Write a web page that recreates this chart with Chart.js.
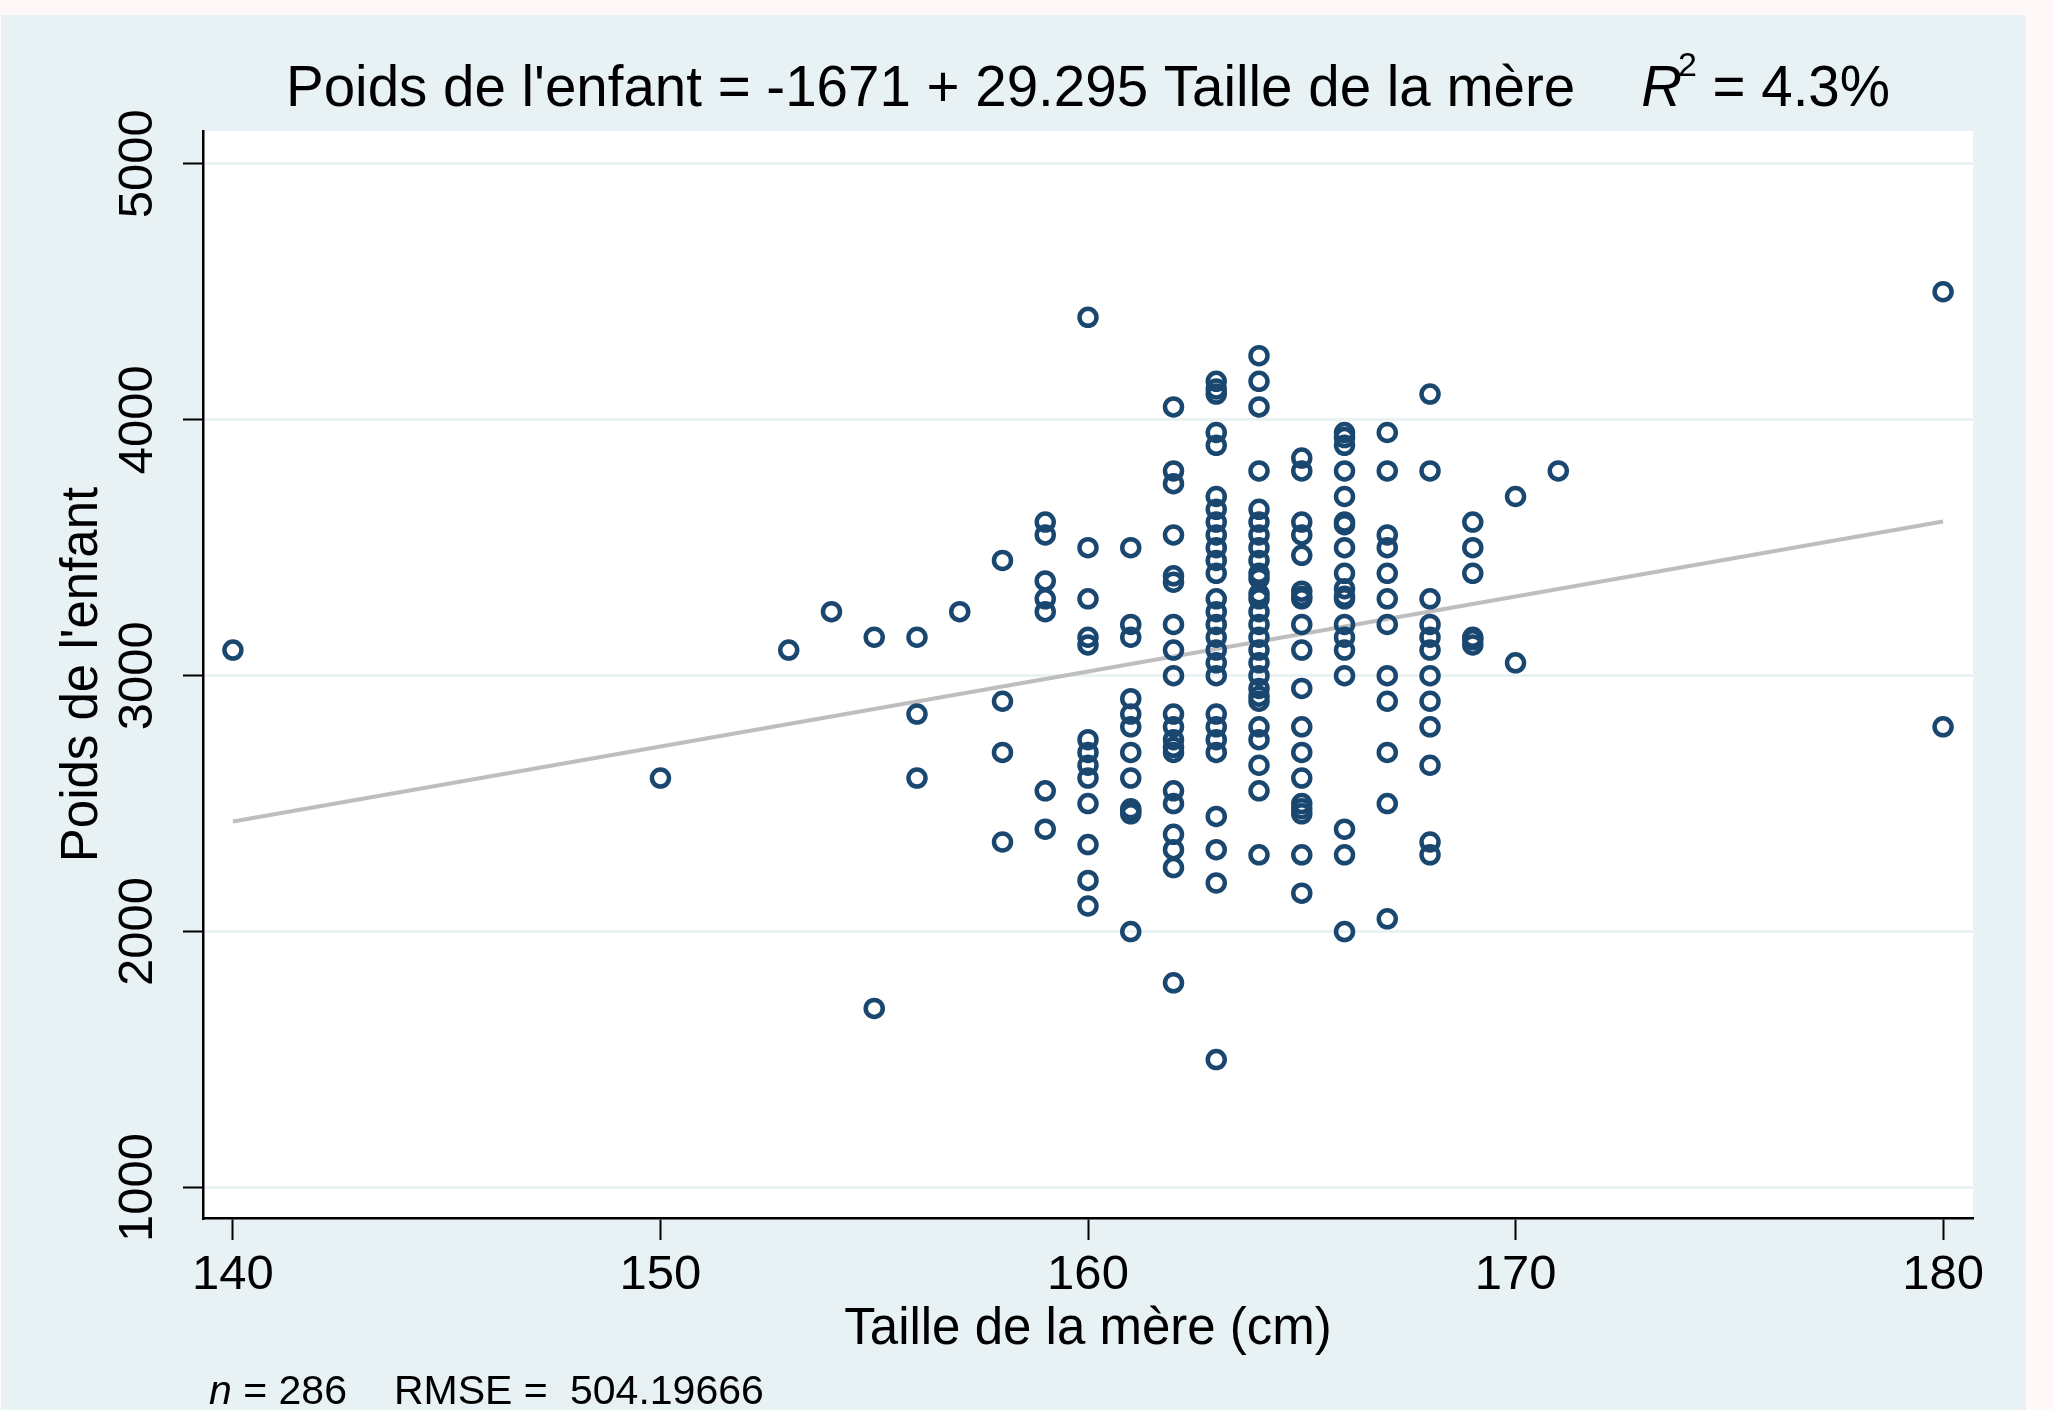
<!DOCTYPE html>
<html>
<head>
<meta charset="utf-8">
<script src="https://cdn.jsdelivr.net/npm/chart.js@4.4.1/dist/chart.umd.min.js"></script>
<style>
  html, body { margin: 0; padding: 0; background: #fff8f9; }
  canvas { display: block; }
</style>
</head>
<body>
<canvas id="graphe" width="2053" height="1410"></canvas>
<script>
// taille de la mère (cm) et poids de l'enfant lus colonne par colonne
const tailles = [140, 150, 153, 154, 155, 156, 157, 158, 159, 160, 161, 162, 163, 164, 165, 166, 167, 168, 169, 170, 171, 180];
const poids = [
    [3100],
    [2600],
    [3100],
    [3250],
    [3150, 1700],
    [3150, 2850, 2600],
    [3250],
    [3450, 2900, 2700, 2350],
    [3600, 3550, 3370, 3300, 3250, 2550, 2400],
    [4400, 3500, 3300, 3150, 3120, 2750, 2700, 2650, 2600, 2500, 2340, 2200, 2100],
    [3500, 3200, 3150, 2910, 2850, 2800, 2700, 2600, 2480, 2470, 2460, 2000],
    [4050, 3800, 3750, 3550, 3390, 3365, 3200, 3100, 3000, 2850, 2800, 2750, 2720, 2700, 2550, 2500, 2380, 2320, 2250, 1800],
    [4150, 4120, 4100, 3950, 3900, 3700, 3650, 3600, 3550, 3500, 3450, 3400, 3300, 3250, 3200, 3150, 3100, 3050, 3000, 2850, 2800, 2750, 2700, 2450, 2320, 2190, 1500],
    [4250, 4150, 4050, 3800, 3650, 3600, 3550, 3500, 3450, 3400, 3380, 3320, 3300, 3250, 3200, 3150, 3100, 3050, 3000, 2950, 2920, 2900, 2800, 2750, 2650, 2550, 2300],
    [3850, 3800, 3600, 3550, 3470, 3330, 3310, 3300, 3200, 3100, 2950, 2800, 2700, 2600, 2500, 2480, 2460, 2300, 2150],
    [3950, 3930, 3900, 3800, 3700, 3600, 3590, 3500, 3400, 3340, 3310, 3300, 3200, 3150, 3100, 3000, 2400, 2300, 2000],
    [3950, 3800, 3550, 3500, 3400, 3300, 3200, 3000, 2900, 2700, 2500, 2050],
    [4100, 3800, 3300, 3200, 3150, 3100, 3000, 2900, 2800, 2650, 2350, 2300],
    [3600, 3500, 3400, 3150, 3140, 3120],
    [3700, 3050],
    [3800],
    [4500, 2800]
];

// droite ajustée (extrémités)
const droiteX = [140, 180];
const droiteY = [2430, 3602];

const ticksX = [140, 150, 160, 170, 180];
const ticksY = [1000, 2000, 3000, 4000, 5000];

const police = "'Liberation Sans', Arial, Helvetica, sans-serif";
Chart.defaults.font.family = police;

const points = [];
tailles.forEach((t, i) => {
    poids[i].forEach(p => points.push({ x: t, y: p }));
});

const decor = {
    id: 'decor',
    beforeDraw(chart) {
        const c = chart.ctx;
        const a = chart.chartArea;
        c.save();
        c.fillStyle = '#fff8f9';
        c.fillRect(0, 0, chart.width, chart.height);
        c.fillStyle = '#e8f1f3';
        c.fillRect(1, 15, 2025, chart.height - 15);
        c.fillStyle = '#ffffff';
        c.fillRect(a.left, a.top, a.right - a.left, a.bottom - a.top);
        c.restore();
    },
    afterDraw(chart) {
        const c = chart.ctx;
        const a = chart.chartArea;
        const y = chart.scales.y;
        c.save();
        c.fillStyle = '#000';

        // étiquettes de l'axe Y, verticales comme dans Stata
        c.font = '49px ' + police;
        c.textAlign = 'center';
        c.textBaseline = 'middle';
        ticksY.forEach(v => {
            c.save();
            c.translate(138, y.getPixelForValue(v));
            c.rotate(-Math.PI / 2);
            c.fillText(String(v), 0, 0);
            c.restore();
        });

        // titre avec R²
        c.textAlign = 'left';
        c.textBaseline = 'alphabetic';
        const t1 = "Poids de l'enfant = -1671 + 29.295 Taille de la mère";
        const fN = '56.5px ' + police, fI = 'italic 56.5px ' + police, fS = '34px ' + police;
        c.font = fN; const w1 = c.measureText(t1).width;
        const gap = 66;
        c.font = fI; const wR = c.measureText('R').width;
        c.font = fS; const w2 = c.measureText('2').width;
        c.font = fN; const w3 = c.measureText(' = 4.3%').width;
        const total = w1 + gap + wR + w2 + w3;
        let x = (a.left + a.right) / 2 - total / 2 + 2;
        const base = 106;
        c.font = fN; c.fillText(t1, x, base); x += w1 + gap;
        c.font = fI; c.fillText('R', x, base); x += wR;
        c.font = fS; c.fillText('2', x - 4, base - 30); x += w2;
        c.font = fN; c.fillText(' = 4.3%', x - 4, base);

        // note
        const nb = 1404;
        c.font = 'italic 41px ' + police;
        c.fillText('n', 209, nb);
        const wn = c.measureText('n').width;
        c.font = '41px ' + police;
        c.fillText(' = 286', 209 + wn, nb);
        c.fillText('RMSE =', 394, nb);
        c.fillText('504.19666', 570, nb);
        c.restore();
    }
};

new Chart(document.getElementById('graphe'), {
    type: 'scatter',
    data: {
        datasets: [
            {
                type: 'line',
                data: droiteX.map((x, i) => ({ x: x, y: droiteY[i] })),
                borderColor: '#bebebe',
                borderWidth: 4,
                pointRadius: 0,
                fill: false,
                order: 2
            },
            {
                data: points,
                pointStyle: 'circle',
                pointRadius: 8.5,
                borderWidth: 4.5,
                borderColor: '#1a476f',
                backgroundColor: 'rgba(0,0,0,0)',
                order: 1
            }
        ]
    },
    options: {
        responsive: false,
        animation: false,
        layout: { padding: { top: 131, right: 80, left: 0, bottom: 0 } },
        plugins: {
            legend: { display: false },
            tooltip: { enabled: false }
        },
        scales: {
            x: {
                type: 'linear',
                min: 139.3,
                max: 180.7,
                afterBuildTicks: s => { s.ticks = ticksX.map(v => ({ value: v })); },
                afterFit: s => { s.height = 192; },
                grid: { drawOnChartArea: false, drawTicks: true, tickLength: 22, tickColor: '#000', tickWidth: 2 },
                border: { display: true, color: '#000', width: 2.5 },
                ticks: { color: '#000', font: { size: 49 }, padding: 6, maxRotation: 0, autoSkip: false },
                title: { display: true, text: 'Taille de la mère (cm)', color: '#000', font: { size: 51 }, padding: { bottom: 49 } }
            },
            y: {
                type: 'linear',
                min: 881,
                max: 5128,
                afterBuildTicks: s => { s.ticks = ticksY.map(v => ({ value: v })); },
                afterFit: s => { s.width = 203; },
                grid: { color: '#eaf2f3', lineWidth: 3, drawTicks: true, tickLength: 20, tickColor: '#000', tickWidth: 2 },
                border: { display: true, color: '#000', width: 2.5 },
                ticks: { display: false },
                title: { display: true, text: "Poids de l'enfant", color: '#000', font: { size: 51 }, padding: { top: 52 } }
            }
        }
    },
    plugins: [decor]
});
</script>
</body>
</html>
